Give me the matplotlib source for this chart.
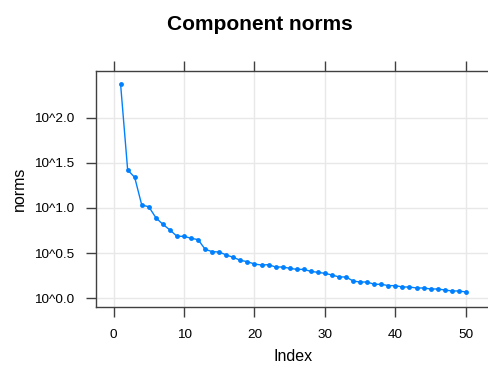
import numpy as np
import matplotlib
matplotlib.use('Agg')
from matplotlib import pyplot as plt

# log10 of the component norms
index = list(range(1, 51))
log_norms = [2.367, 1.420, 1.338, 1.032, 1.013, 0.892, 0.818, 0.756, 0.686, 0.686,
             0.664, 0.649, 0.542, 0.516, 0.512, 0.479, 0.453, 0.420, 0.405, 0.379,
             0.368, 0.372, 0.346, 0.346, 0.332, 0.320, 0.320, 0.298, 0.287, 0.276,
             0.258, 0.236, 0.236, 0.191, 0.180, 0.180, 0.155, 0.155, 0.140, 0.140,
             0.125, 0.125, 0.114, 0.114, 0.103, 0.103, 0.092, 0.081, 0.081, 0.070]
xticks = [0, 10, 20, 30, 40, 50]
yticks = [0.0, 0.5, 1.0, 1.5, 2.0]
ytick_labels = ['10^0.0', '10^0.5', '10^1.0', '10^1.5', '10^2.0']

plt.rcParams['font.family'] = ['Liberation Sans', 'DejaVu Sans']

fig = plt.figure(figsize=(4.88, 3.67), dpi=100)
W, H = 488.0, 367.0
ax = fig.add_axes([96.3 / W, (H - 306.7) / H, (490.5 - 96.3) / W, (306.7 - 70.7) / H])

ax.plot(index, log_norms, color='#0080ff', lw=1.0, marker='o', markersize=3.5,
        markeredgewidth=0, zorder=3, clip_on=False)

ax.set_xlim(-2.45, 53.5)
ax.set_ylim(-0.093, 2.518)
ax.set_xticks(xticks)
ax.set_yticks(yticks)
ax.set_yticklabels(ytick_labels)
ax.grid(True, color='#e8e8e8', lw=1.0, zorder=0)

edge = '#404040'
for s in ax.spines.values():
    s.set_color(edge)
    s.set_linewidth(1.0)
ax.tick_params(direction='out', length=7, width=1.0, color=edge, labelsize=9.7,
               labelcolor='black', pad=9)
ax.tick_params(axis='x', top=True, labeltop=False)

ax.set_xlabel('Index', fontsize=11.5, labelpad=6)
ax.set_ylabel('norms', fontsize=11.5, labelpad=5)
fig.text(259.5 / W, 1 - 25 / H, 'Component norms', ha='center', va='center',
         fontsize=15, fontweight='bold')

fig.savefig('out.png', dpi=100)
